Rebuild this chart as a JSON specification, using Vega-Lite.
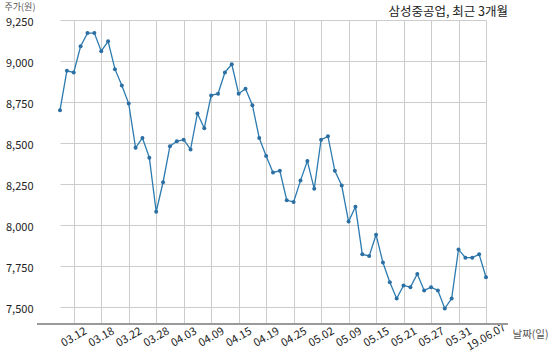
{
  "$schema": "https://vega.github.io/schema/vega-lite/v6.json",
  "width": 471,
  "height": 304,
  "autosize": {"type": "none"},
  "padding": {"left": 37, "top": 20, "right": 42, "bottom": 36},
  "background": "white",
  "title": {"text": "삼성중공업, 최근 3개월", "anchor": "end", "frame": "group", "fontSize": 12.5, "fontWeight": "normal", "color": "#222222", "font": "Noto Sans CJK KR", "offset": 3, "dy": 19},
  "config": {"view": {"stroke": null}, "font": "Noto Sans CJK KR"},
  "data": {"values": [
    {"d": "03.08", "p": 8700}, {"d": "03.11", "p": 8940}, {"d": "03.12", "p": 8930}, {"d": "03.13", "p": 9090},
    {"d": "03.14", "p": 9170}, {"d": "03.15", "p": 9170}, {"d": "03.18", "p": 9060}, {"d": "03.19", "p": 9120},
    {"d": "03.20", "p": 8950}, {"d": "03.21", "p": 8850}, {"d": "03.22", "p": 8740}, {"d": "03.25", "p": 8470},
    {"d": "03.26", "p": 8530}, {"d": "03.27", "p": 8410}, {"d": "03.28", "p": 8080}, {"d": "03.29", "p": 8260},
    {"d": "04.01", "p": 8480}, {"d": "04.02", "p": 8510}, {"d": "04.03", "p": 8520}, {"d": "04.04", "p": 8460},
    {"d": "04.05", "p": 8680}, {"d": "04.08", "p": 8590}, {"d": "04.09", "p": 8790}, {"d": "04.10", "p": 8800},
    {"d": "04.11", "p": 8930}, {"d": "04.12", "p": 8980}, {"d": "04.15", "p": 8800}, {"d": "04.16", "p": 8830},
    {"d": "04.17", "p": 8730}, {"d": "04.18", "p": 8530}, {"d": "04.19", "p": 8420}, {"d": "04.22", "p": 8320},
    {"d": "04.23", "p": 8330}, {"d": "04.24", "p": 8150}, {"d": "04.25", "p": 8140}, {"d": "04.26", "p": 8270},
    {"d": "04.29", "p": 8390}, {"d": "04.30", "p": 8220}, {"d": "05.02", "p": 8520}, {"d": "05.03", "p": 8540},
    {"d": "05.07", "p": 8330}, {"d": "05.08", "p": 8240}, {"d": "05.09", "p": 8020}, {"d": "05.10", "p": 8110},
    {"d": "05.13", "p": 7820}, {"d": "05.14", "p": 7810}, {"d": "05.15", "p": 7940}, {"d": "05.16", "p": 7770},
    {"d": "05.17", "p": 7650}, {"d": "05.20", "p": 7550}, {"d": "05.21", "p": 7630}, {"d": "05.22", "p": 7620},
    {"d": "05.23", "p": 7700}, {"d": "05.24", "p": 7600}, {"d": "05.27", "p": 7620}, {"d": "05.28", "p": 7600},
    {"d": "05.29", "p": 7490}, {"d": "05.30", "p": 7550}, {"d": "05.31", "p": 7850}, {"d": "06.03", "p": 7800},
    {"d": "06.04", "p": 7800}, {"d": "06.05", "p": 7820}, {"d": "06.07", "p": 7680}
  ]},
  "layer": [
    {
      "mark": {"type": "rule", "color": "#999999", "strokeWidth": 1},
      "encoding": {"y": {"datum": 7395, "type": "quantitative"}}
    },
    {
      "mark": {"type": "line", "color": "#2c7bb0", "strokeWidth": 1.3, "point": {"filled": true, "size": 16, "color": "#2c6fa3"}},
      "encoding": {
        "x": {
          "field": "d", "type": "ordinal", "sort": null,
          "scale": {"type": "point", "padding": 0, "range": [23, 449]},
          "axis": {
            "values": ["03.12", "03.18", "03.22", "03.28", "04.03", "04.09", "04.15", "04.19", "04.25", "05.02", "05.09", "05.15", "05.21", "05.27", "05.31", "06.07"],
            "labelExpr": "datum.value == '06.07' ? '19.06.07' : datum.value",
            "labelAngle": -30, "labelAlign": "center", "labelBaseline": "middle",
            "labelPadding": 13, "ticks": false, "tickSize": 0,
            "labelFontSize": 11, "labelColor": "#222222",
            "grid": true, "gridColor": "#cccccc", "gridWidth": 1,
            "domain": false,
            "title": "날짜(일)", "titleFontSize": 10.5, "titleFontWeight": "normal", "titleColor": "#555555",
            "titleAngle": 0, "titleAlign": "left", "titleBaseline": "middle", "titleX": 475, "titleY": 10
          }
        },
        "y": {
          "field": "p", "type": "quantitative",
          "scale": {"domain": [7395, 9250], "nice": false, "zero": false},
          "axis": {
            "values": [7500, 7750, 8000, 8250, 8500, 8750, 9000, 9250],
            "format": ",d",
            "ticks": false, "tickSize": 0, "labelPadding": 4, "labelOffset": 2.5,
            "labelFontSize": 11, "labelColor": "#222222",
            "grid": true, "gridColor": "#cccccc", "gridWidth": 1,
            "domain": false,
            "title": "주가(원)", "titleFontSize": 9, "titleFontWeight": "normal", "titleColor": "#555555",
            "titleAngle": 0, "titleAlign": "left", "titleBaseline": "top", "titleX": -33, "titleY": -18
          }
        }
      }
    }
  ]
}
